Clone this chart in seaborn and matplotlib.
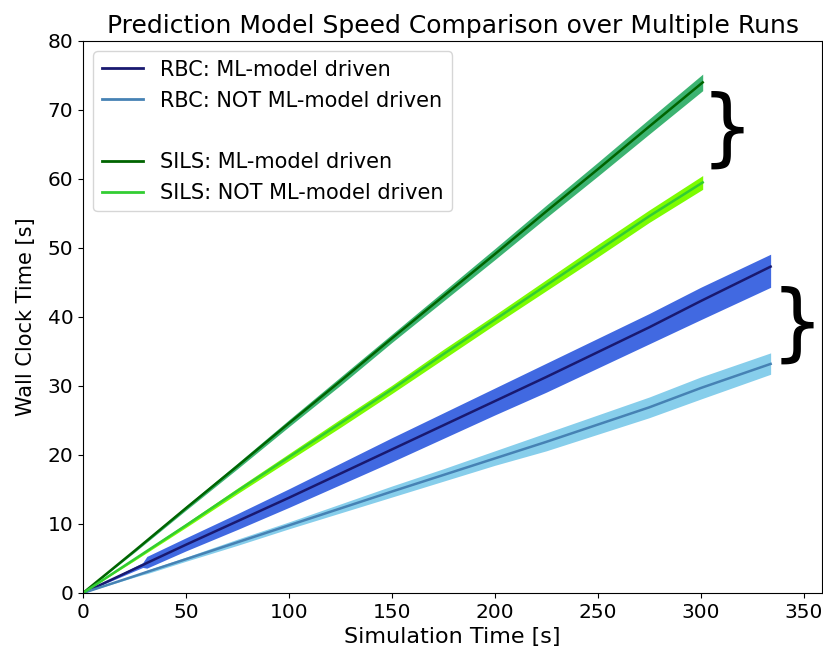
import matplotlib
matplotlib.use("Agg")
import matplotlib.pyplot as plt
from matplotlib.lines import Line2D
import seaborn as sns

plt.rcParams["font.size"] = 15
plt.rcParams["font.family"] = ["DejaVu Sans"]

# Simulation time sample points [s]
t_rbc = [0, 25, 29, 31, 50, 75, 100, 125, 150, 175, 200, 225, 250, 275, 300, 334]
t_sils = [0, 25, 50, 75, 100, 125, 150, 175, 200, 225, 250, 275, 301]

# RBC, ML-model driven: mean and min/max envelope over runs [s]
rbc_ml_mean = [0, 3.5, 4.05, 4.35, 7.0, 10.4, 13.8, 17.3, 20.8, 24.3, 27.8, 31.3, 34.9, 38.5, 42.3, 47.3]
rbc_ml_hi = [0, 3.8, 4.4, 5.3, 8.0, 11.5, 15.1, 18.8, 22.5, 26.1, 29.7, 33.3, 36.9, 40.5, 44.3, 49.1]
rbc_ml_lo = [0, 3.2, 3.7, 3.6, 6.1, 9.2, 12.4, 15.7, 19.0, 22.4, 25.8, 29.1, 32.6, 36.1, 39.6, 44.3]

# RBC, not ML-model driven
rbc_no_mean = [0, 2.45, 2.85, 3.05, 4.9, 7.35, 9.8, 12.25, 14.7, 17.1, 19.5, 21.9, 24.4, 26.9, 29.7, 33.2]
rbc_no_hi = [0, 2.6, 3.05, 3.3, 5.2, 7.8, 10.3, 12.9, 15.5, 18.0, 20.6, 23.2, 25.8, 28.4, 31.3, 34.8]
rbc_no_lo = [0, 2.3, 2.65, 2.8, 4.6, 6.9, 9.3, 11.6, 13.9, 16.2, 18.5, 20.6, 23.0, 25.4, 28.1, 31.7]

# SILS, ML-model driven
sils_ml_mean = [0, 6.1, 12.3, 18.4, 24.6, 30.7, 36.9, 43.0, 49.1, 55.3, 61.4, 67.6, 74.0]
sils_ml_hi = [0, 6.3, 12.6, 18.8, 25.1, 31.3, 37.5, 43.7, 49.9, 56.2, 62.4, 68.7, 75.2]
sils_ml_lo = [0, 5.9, 12.0, 18.0, 24.1, 30.1, 36.3, 42.3, 48.3, 54.4, 60.4, 66.5, 72.8]

# SILS, not ML-model driven
sils_no_mean = [0, 4.9, 9.8, 14.8, 19.7, 24.6, 29.5, 34.6, 39.6, 44.6, 49.6, 54.6, 59.5]
sils_no_hi = [0, 5.1, 10.1, 15.2, 20.2, 25.2, 30.1, 35.3, 40.3, 45.4, 50.5, 55.5, 60.5]
sils_no_lo = [0, 4.7, 9.5, 14.4, 19.2, 24.0, 28.9, 33.9, 38.9, 43.8, 48.7, 53.7, 58.5]

labels = ["RBC: ML-model driven", "RBC: NOT ML-model driven",
          "SILS: ML-model driven", "SILS: NOT ML-model driven"]
line_colors = ["midnightblue", "steelblue", "darkgreen", "limegreen"]
band_colors = ["royalblue", "skyblue", "mediumseagreen", "lawngreen"]

series = [
    (t_rbc, rbc_ml_mean, rbc_ml_lo, rbc_ml_hi),
    (t_rbc, rbc_no_mean, rbc_no_lo, rbc_no_hi),
    (t_sils, sils_ml_mean, sils_ml_lo, sils_ml_hi),
    (t_sils, sils_no_mean, sils_no_lo, sils_no_hi),
]

fig = plt.figure(figsize=(8.23, 6.58), dpi=100)
ax = fig.add_axes([0.1009, 0.0988, 0.898, 0.8389])

for (t, m, lo, hi), bc in zip(series, band_colors):
    ax.fill_between(t, lo, hi, color=bc, linewidth=0, zorder=1)
for (t, m, lo, hi), lc in zip(series, line_colors):
    sns.lineplot(x=t, y=m, color=lc, linewidth=1.8, ax=ax, zorder=2, legend=False)

handles = [Line2D([], [], color=c, linewidth=2) for c in line_colors]
blank = Line2D([], [], color="none")
ax.legend([handles[0], handles[1], blank, handles[2], handles[3]],
          [labels[0], labels[1], "", labels[2], labels[3]],
          loc="upper left", fontsize=15, labelspacing=0.52)

# Braces grouping the ML / non-ML pair of each solver
ax.text(312.7, 67.0, "}", fontsize=60, ha="center", va="center", clip_on=False)
ax.text(347.0, 38.7, "}", fontsize=60, ha="center", va="center", clip_on=False)

ax.set_xlim(0, 359)
ax.set_ylim(0, 80)
ax.set_xticks([0, 50, 100, 150, 200, 250, 300, 350])
ax.set_yticks([0, 10, 20, 30, 40, 50, 60, 70, 80])
ax.tick_params(labelsize=14.5)
ax.set_xlabel("Simulation Time [s]", fontsize=16)
ax.set_ylabel("Wall Clock Time [s]", fontsize=15, labelpad=8)
ax.set_title("Prediction Model Speed Comparison over Multiple Runs", fontsize=18)

fig.savefig("out.png", dpi=100)
